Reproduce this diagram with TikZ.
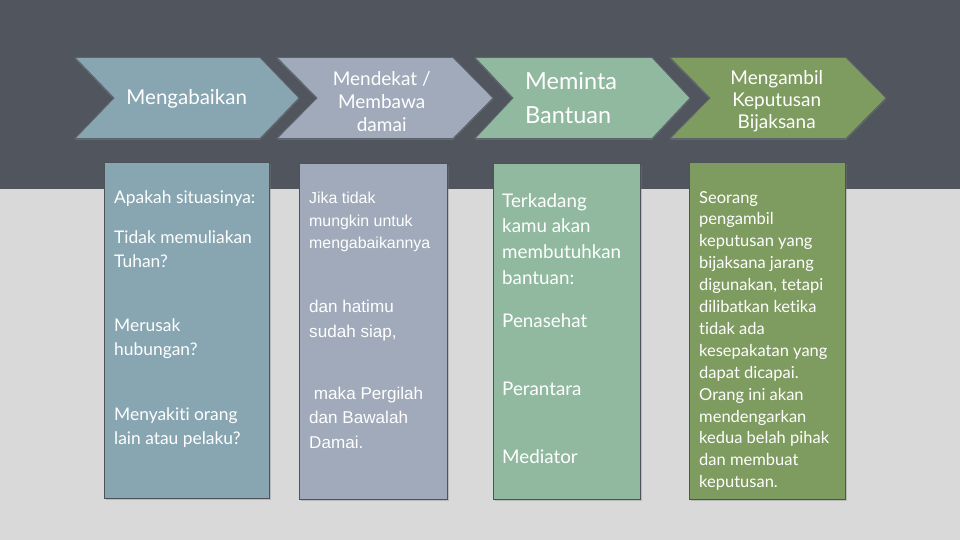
\documentclass[tikz,border=0pt]{standalone}
\usepackage{fontspec}
\setmainfont{Lato}[Ligatures=NoCommon]
\newfontfamily\arialfont{Liberation Sans}
\usetikzlibrary{shadows}
\definecolor{band}{HTML}{50555E}
\definecolor{light}{HTML}{D9D9D9}
\definecolor{cA}{HTML}{87A6B1}
\definecolor{cB}{HTML}{A0AABA}
\definecolor{cC}{HTML}{90B9A0}
\definecolor{cD}{HTML}{7E9B60}
\definecolor{chevline}{HTML}{5E646C}
\definecolor{boxline}{HTML}{4D5359}
\newcommand\mychev[4]{\filldraw[chev, fill=#4] (#1,57.5) -- (#2-#3,57.5) -- (#2,98) -- (#2-#3,138.5) -- (#1,138.5) -- (#1+#3,98) -- cycle;}
\begin{document}
\begin{tikzpicture}[x=1pt,y=-1pt,
  chev/.style={draw=chevline, line width=0.8pt, drop shadow={shadow xshift=0pt,shadow yshift=-1.5pt,opacity=0.45}},
  infobox/.style={draw=boxline, line width=1pt, drop shadow={shadow xshift=1.5pt,shadow yshift=-2pt,opacity=0.35}},
  ctxt/.style={anchor=base, inner sep=0pt, text=white},
  ln/.style={anchor=base west, inner sep=0pt, text=white},
  fchA/.style={font=\fontsize{20.5}{24}\selectfont},
  fchB/.style={font=\fontsize{19}{22}\selectfont},
  fchC/.style={font=\fontsize{23.5}{27}\selectfont},
  fbox/.style={font=\fontsize{17.4}{20}\selectfont},
  fboxC/.style={font=\fontsize{18.8}{21}\selectfont},
  fboxD/.style={font=\fontsize{16.5}{19}\selectfont},
  fbsmall/.style={font=\arialfont\fontsize{15.9}{19}\selectfont},
  fbbig/.style={font=\arialfont\fontsize{17.1}{19}\selectfont},
]
\useasboundingbox (0,0) rectangle (960,540);
\fill[light] (0,0) rectangle (960,540);
\fill[band] (0,0) rectangle (960,189);

% chevrons
\mychev{75}{299}{39}{cA}
\mychev{277}{493}{40}{cB}
\mychev{475}{690}{38}{cC}
\mychev{670}{886}{40}{cD}

\node[ctxt, fchA] (h1) at (186.7,105) {Mengabaikan};
\node[ctxt, fchB] (h2a) at (381.7,85.7) {Mendekat /};
\node[ctxt, fchB] (h2b) at (381.7,109) {Membawa};
\node[ctxt, fchB] (h2c) at (381.7,131.5) {damai};
\node[ln, fchC] (h3a) at (525,89.3) {Meminta};
\node[ln, fchC] (h3b) at (525,123.3) {Bantuan};
\node[ctxt, fchB] (h4a) at (776.7,84.3) {Mengambil};
\node[ctxt, fchB] (h4b) at (776.7,106.7) {Keputusan};
\node[ctxt, fchB] (h4c) at (776.7,128.3) {Bijaksana};

% boxes
\filldraw[infobox, fill=cA] (104,162.5) rectangle (269,498);
\filldraw[infobox, fill=cB] (299,164) rectangle (447,499);
\filldraw[infobox, fill=cC] (493,164) rectangle (640,499);
\filldraw[infobox, fill=cD] (689,162.5) rectangle (845,499);

% box 1 text
\node[ln, fbox] (a1) at (114,204) {Apakah situasinya:};
\node[ln, fbox] (a2) at (114,243) {Tidak memuliakan};
\node[ln, fbox] (a3) at (114,267.5) {Tuhan?};
\node[ln, fbox] (a4) at (114,331.5) {Merusak};
\node[ln, fbox] (a5) at (114,355) {hubungan?};
\node[ln, fbox] (a6) at (114,420) {Menyakiti orang};
\node[ln, fbox] (a7) at (114,444) {lain atau pelaku?};

% box 2 text
\node[ln, fbsmall] (b1) at (309,204) {Jika tidak};
\node[ln, fbsmall] (b2) at (309,226) {mungkin untuk};
\node[ln, fbsmall] (b3) at (309,248) {mengabaikannya};
\node[ln, fbbig] (b4) at (309,312) {dan hatimu};
\node[ln, fbbig] (b5) at (309,337) {sudah siap,};
\node[ln, fbbig] (b6) at (309,399) {\ maka Pergilah};
\node[ln, fbbig] (b7) at (309,423) {dan Bawalah};
\node[ln, fbbig] (b8) at (309,448) {Damai.};

% box 3 text
\node[ln, fboxC] (c1) at (502,207) {Terkadang};
\node[ln, fboxC] (c2) at (502,232.5) {kamu akan};
\node[ln, fboxC] (c3) at (502,258.5) {membutuhkan};
\node[ln, fboxC] (c4) at (502,284.5) {bantuan:};
\node[ln, fboxC] (c5) at (502,327) {Penasehat};
\node[ln, fboxC] (c6) at (502,395) {Perantara};
\node[ln, fboxC] (c7) at (502,463) {Mediator};

% box 4 text
\foreach \t [count=\i from 0] in {Seorang,pengambil,keputusan yang,bijaksana jarang,{digunakan, tetapi},dilibatkan ketika,tidak ada,kesepakatan yang,dapat dicapai.,Orang ini akan,mendengarkan,kedua belah pihak,dan membuat,keputusan.}
  \node[ln, fboxD] (d\i) at (699,203+21.9*\i) {\t};
\end{tikzpicture}
\end{document}
